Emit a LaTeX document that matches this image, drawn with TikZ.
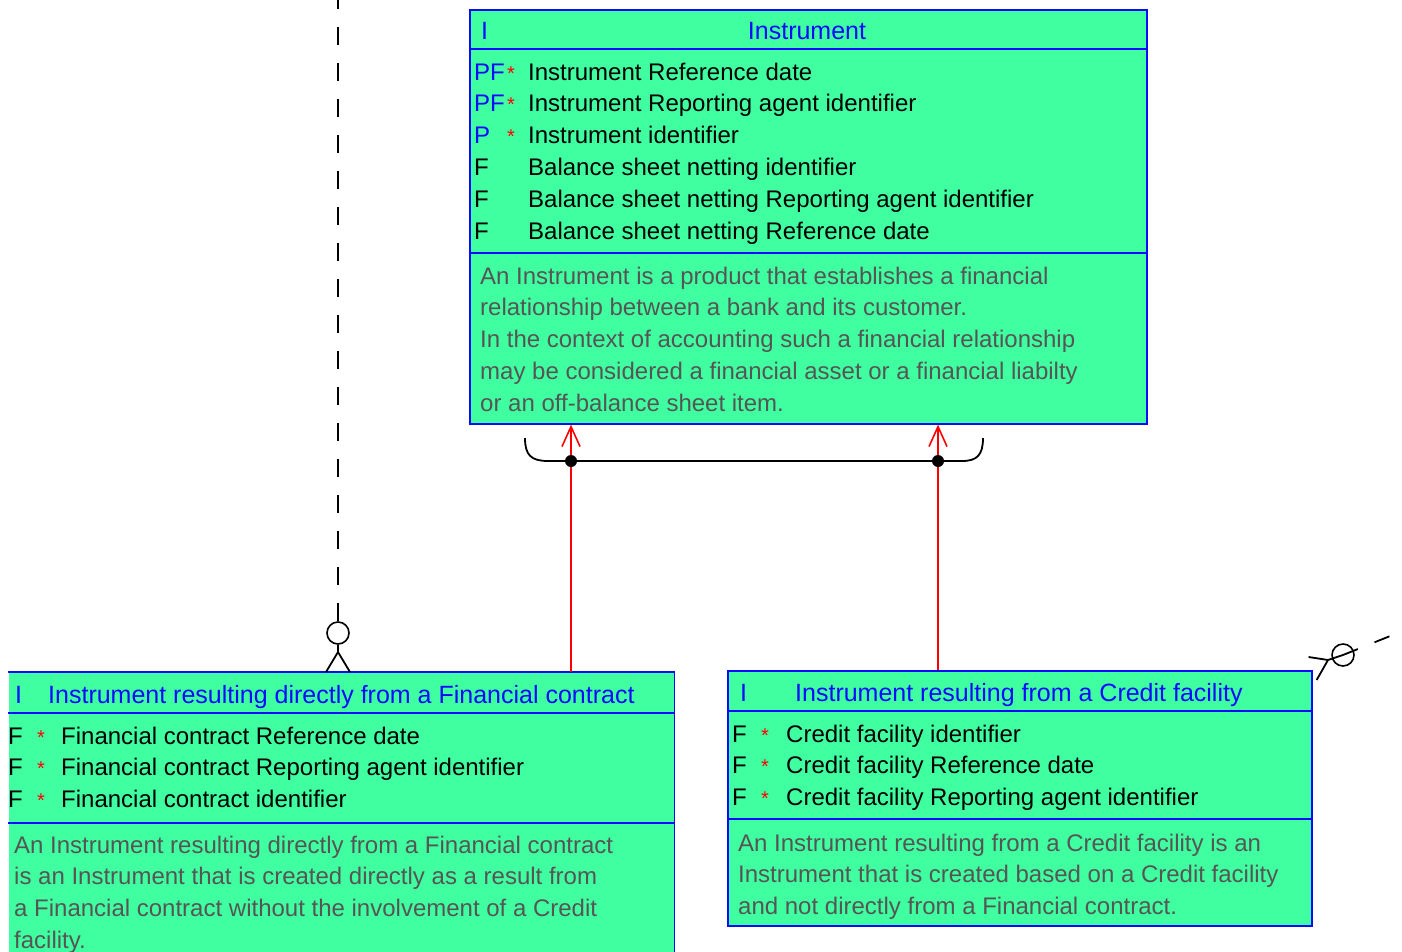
\documentclass[tikz,border=0pt]{standalone}
\usepackage{fontspec}
\setmainfont{Liberation Sans}
\usetikzlibrary{arrows.meta,calc}

\definecolor{entfill}{RGB}{64,255,160}
\definecolor{entblue}{RGB}{10,10,255}
\definecolor{descgray}{RGB}{85,85,85}
\newcommand{\erfont}{\fontsize{24}{28}\selectfont}

\begin{document}
\begin{tikzpicture}[x=1pt,y=-1pt,
        entity/.style={fill=entfill,draw=entblue,line width=1.6pt,anchor=north west,inner sep=0pt},
        sep/.style={draw=entblue,line width=1.6pt},
        txt/.style={anchor=base west,inner sep=0pt,font=\erfont},
        titletxt/.style={txt,text=entblue,font=\fontsize{25}{29}\selectfont},
        startxt/.style={txt,text=red,font=\fontsize{20}{24}\selectfont},
        desctxt/.style={txt,text=descgray},
        isa/.style={draw=red,line width=1.6pt,-{Straight Barb[length=20pt,width=18pt,line width=1.6pt]}},
        rel/.style={draw=black,line width=1.8pt},
        optcirc/.style={circle,draw=black,line width=1.6pt,minimum size=22pt,inner sep=0pt}]
      \useasboundingbox (0,0) rectangle (1402,951);

      % entities
      \node[entity,minimum width=677pt,minimum height=414pt] (instr) at (469,9) {};
      \node[entity,draw=none,minimum width=665pt,minimum height=300pt] (fcinstr) at (8,672) {};
      \node[entity,minimum width=584pt,minimum height=255pt] (cfinstr) at (727,670) {};
      \draw[sep] (fcinstr.north west) -- (fcinstr.north east) -- (fcinstr.south east);
      \draw[sep] ([yshift=-40pt]instr.north west) -- ([yshift=-40pt]instr.north east)
      ([yshift=-244pt]instr.north west) -- ([yshift=-244pt]instr.north east);
      \draw[sep] ([yshift=-41pt]fcinstr.north west) -- ([yshift=-41pt]fcinstr.north east)
      ([yshift=-151pt]fcinstr.north west) -- ([yshift=-151pt]fcinstr.north east);
      \draw[sep] ([yshift=-41pt]cfinstr.north west) -- ([yshift=-41pt]cfinstr.north east)
      ([yshift=-149pt]cfinstr.north west) -- ([yshift=-149pt]cfinstr.north east);

      % Instrument
      \node[titletxt] (instrI) at (481,39) {I};
      \node[titletxt,anchor=base] (instrT) at (807,39) {Instrument};
      \foreach \c/\k/\s/\t [count=\i from 0] in {entblue/PF/*/Instrument Reference date,
          entblue/PF/*/Instrument Reporting agent identifier,
          entblue/P/*/Instrument identifier,
          black/F//Balance sheet netting identifier,
          black/F//Balance sheet netting Reporting agent identifier,
          black/F//Balance sheet netting Reference date}
      {
        \node[txt,text=\c] (instrK\i) at (474,80+31.9*\i) {\k};
        \node[startxt] (instrS\i) at (507,80+31.9*\i) {\s};
        \node[txt] (instrA\i) at (528,80+31.9*\i) {\t};
      }
      \foreach \t [count=\i from 0] in {An Instrument is a product that establishes a financial,
          relationship between a bank and its customer.,
          In the context of accounting such a financial relationship,
          may be considered a financial asset or a financial liabilty,
          or an off-balance sheet item.}
        \node[desctxt] (instrD\i) at (480,284+31.8*\i) {\t};

      % Instrument resulting directly from a Financial contract
      \node[titletxt] (fcI) at (15,703) {I};
      \node[titletxt] (fcT) at (48,703) {Instrument resulting directly from a Financial contract};
      \foreach \t [count=\i from 0] in {Financial contract Reference date,
          Financial contract Reporting agent identifier,
          Financial contract identifier}
      {
        \node[txt] (fcK\i) at (8,744+31.6*\i) {F};
        \node[startxt] (fcS\i) at (37,744+31.6*\i) {*};
        \node[txt] (fcA\i) at (61,744+31.6*\i) {\t};
      }
      \foreach \t [count=\i from 0] in {An Instrument resulting directly from a Financial contract,
          is an Instrument that is created directly as a result from,
          a Financial contract without the involvement of a Credit,
          facility.}
        \node[desctxt] (fcD\i) at (14,853+31.7*\i) {\t};

      % Instrument resulting from a Credit facility
      \node[titletxt] (cfI) at (740,701) {I};
      \node[titletxt] (cfT) at (795,701) {Instrument resulting from a Credit facility};
      \foreach \t [count=\i from 0] in {Credit facility identifier,
          Credit facility Reference date,
          Credit facility Reporting agent identifier}
      {
        \node[txt] (cfK\i) at (732,742+31.6*\i) {F};
        \node[startxt] (cfS\i) at (761,742+31.6*\i) {*};
        \node[txt] (cfA\i) at (786,742+31.6*\i) {\t};
      }
      \foreach \t [count=\i from 0] in {An Instrument resulting from a Credit facility is an,
          Instrument that is created based on a Credit facility,
          and not directly from a Financial contract.}
        \node[desctxt] (cfD\i) at (738,851+31.6*\i) {\t};

      % subtypes
      \coordinate (jl) at (571,461);
      \coordinate (jr) at (938,461);
      \draw[isa] (fcinstr.north -| jl) -- (instr.south -| jl);
      \draw[isa] (cfinstr.north -| jr) -- (instr.south -| jr);
      \draw[rel] (525,438) .. controls (525,455) and (531,461) .. (548,461) -- (jl) -- (jr)
      -- (962,461) .. controls (977,461) and (983,455) .. (983,438);
      \fill (jl) circle (6pt) (jr) circle (6pt);

      % relationships
      \coordinate (upend) at (338,0);
      \node[optcirc] (lopt) at (338,633) {};
      \coordinate (lfoot) at (338,652);
      \draw[rel,dash pattern=on 18pt off 18pt] (lopt) -- (upend);
      \draw[rel] (lopt) -- (lfoot)
      (lfoot) -- ([xshift=-12pt]fcinstr.north -| lfoot)
      (lfoot) -- ([xshift=12pt]fcinstr.north -| lfoot);
      \coordinate (rend) at (1410,628);
      \node[optcirc] (ropt) at (1343,655) {};
      \coordinate (rfoot) at (1328,660);
      \draw[rel,dash pattern=on 16pt off 18pt] (ropt.center) -- (rend);
      \draw[rel] (rfoot) -- (ropt.center)
      (rfoot) -- ($(cfinstr.north east)+(-4,-13)$)
      (rfoot) -- ($(cfinstr.north east)+(4,10)$);
    \end{tikzpicture}
\end{document}
